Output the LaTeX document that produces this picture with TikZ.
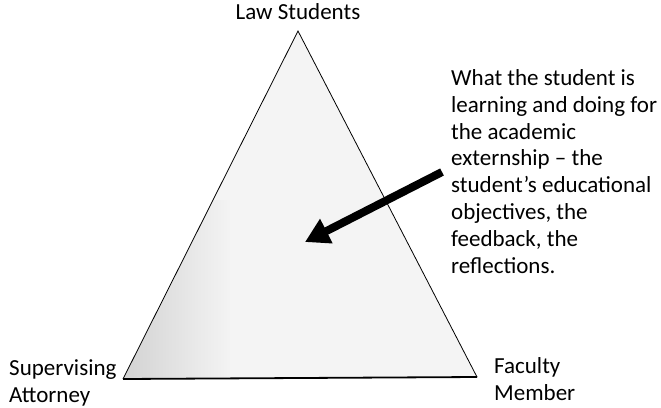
\documentclass[tikz,border=0pt]{standalone}
\usepackage{fontspec}
\setmainfont{Carlito}
\usetikzlibrary{arrows.meta}
\begin{document}
\begin{tikzpicture}[x=1pt,y=-1pt,
  lbl/.style={inner sep=0pt, align=left, font=\fontsize{23}{26.9}\selectfont},
  edge/.style={draw=black, line width=0.8pt, line join=miter},
  bigarrow/.style={line width=8pt, -{Triangle[length=24pt,width=26pt]}}]
\useasboundingbox (0,0) rectangle (661,407);
\coordinate (A) at (298,31);
\coordinate (B) at (123,379);
\coordinate (C) at (477,377);
% triangle fill with darker lower-left
\fill[gray!9] (A) -- (B) -- (C) -- cycle;
\begin{scope}
  \clip (A) -- (B) -- (C) -- cycle;
  \shade[left color=gray!35, right color=gray!9] (123,200) rectangle (230,379);
\end{scope}
\draw[edge] (B) -- (A) -- (C);
\draw[line width=1.8pt] (B) -- (C);
% labels (base anchor of a multi-line node = last line)
\node[lbl, anchor=base] (top) at (298,19) {Law Students};
\node[lbl, anchor=base west] (left) at (9,402) {Supervising\\Attorney};
\node[lbl, anchor=base west] (right) at (494,400) {Faculty\\Member};
\node[lbl, anchor=base west] (desc) at (451,273.5) {What the student is\\learning and doing for\\the academic\\externship – the\\student’s educational\\objectives, the\\feedback, the\\reflections.};
% arrow
\coordinate (tail) at (442,172);
\coordinate (tip) at (305,242);
\draw[bigarrow] (tail) -- (tip);
\end{tikzpicture}
\end{document}
